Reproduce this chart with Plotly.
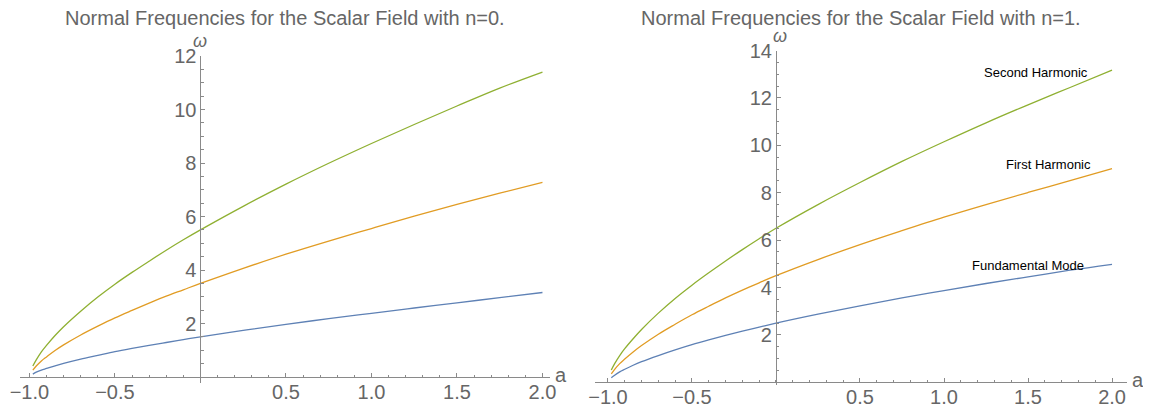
import plotly.graph_objects as go

W, H = 1151, 408          # browser window
OFF = 8                   # default page body margin
FW, FH = W - OFF, H - OFF  # figure reaches the window's right and bottom edges

# ---- data ----
a_vals = [-0.98, -0.96, -0.93, -0.9, -0.85, -0.8, -0.7, -0.6, -0.5, -0.4, -0.3,
          -0.2, -0.1, 0.0, 0.25, 0.5, 0.75, 1.0, 1.25, 1.5, 1.75, 2.0]

n0_fundamental = [0.11, 0.18, 0.26, 0.32, 0.42, 0.51, 0.67, 0.81, 0.95, 1.07, 1.18,
                  1.29, 1.40, 1.50, 1.74, 1.97, 2.18, 2.38, 2.58, 2.77, 2.97, 3.16]
n0_first = [0.26, 0.41, 0.60, 0.75, 0.99, 1.20, 1.57, 1.90, 2.21, 2.49, 2.76,
            3.02, 3.26, 3.50, 4.06, 4.59, 5.08, 5.55, 6.01, 6.45, 6.87, 7.28]
n0_second = [0.41, 0.64, 0.94, 1.18, 1.55, 1.88, 2.46, 2.99, 3.47, 3.91, 4.33,
             4.74, 5.13, 5.50, 6.38, 7.21, 7.99, 8.73, 9.44, 10.13, 10.80, 11.40]

n1_fundamental = [0.19, 0.30, 0.44, 0.55, 0.72, 0.87, 1.13, 1.37, 1.59, 1.79, 1.98,
                  2.16, 2.33, 2.50, 2.88, 3.23, 3.56, 3.87, 4.17, 4.45, 4.73, 4.98]
n1_first = [0.36, 0.55, 0.79, 0.98, 1.28, 1.55, 2.03, 2.45, 2.85, 3.21, 3.56,
            3.89, 4.20, 4.50, 5.18, 5.81, 6.40, 6.97, 7.50, 8.01, 8.51, 9.02]
n1_second = [0.52, 0.79, 1.13, 1.42, 1.84, 2.23, 2.92, 3.54, 4.10, 4.62, 5.12,
             5.60, 6.06, 6.50, 7.50, 8.43, 9.32, 10.15, 10.95, 11.71, 12.44, 13.17]

x_tickvals = [-1.0, -0.5, 0.5, 1.0, 1.5, 2.0]
x_ticktext = ["\u22121.0", "\u22120.5", "0.5", "1.0", "1.5", "2.0"]
y_ticks_left = [2, 4, 6, 8, 10, 12]
y_ticks_right = [2, 4, 6, 8, 10, 12, 14]

titles = ["Normal Frequencies for the Scalar Field with n=0.",
          "Normal Frequencies for the Scalar Field with n=1."]
mode_labels = ["Fundamental Mode", "First Harmonic", "Second Harmonic"]
label_pos_x = [1.50, 1.62, 1.55]
label_pos_y = [4.91, 9.17, 13.09]

colors = ["#5E81B5", "#E19C24", "#8FB032"]
AXIS = "#8a8a8a"
TXT = "#666666"
FONT = "Liberation Sans"
TICK_SIZE = 20

fig = go.Figure()
left_series = [n0_fundamental, n0_first, n0_second]
right_series = [n1_fundamental, n1_first, n1_second]
for s, c in zip(left_series, colors):
    fig.add_trace(go.Scatter(x=a_vals, y=s, mode="lines", line=dict(color=c, width=1.3, shape="spline"),
                             xaxis="x", yaxis="y", showlegend=False, hoverinfo="skip"))
for s, c in zip(right_series, colors):
    fig.add_trace(go.Scatter(x=a_vals, y=s, mode="lines", line=dict(color=c, width=1.3, shape="spline"),
                             xaxis="x2", yaxis="y2", showlegend=False, hoverinfo="skip"))

# convert window pixel positions to paper fractions of the (offset) figure
def px(xp):
    return (xp - OFF) / FW

def py(yp):
    return 1 - (yp - OFF) / FH

common_x = dict(tickvals=x_tickvals, ticktext=x_ticktext, ticks="inside", ticklen=4, tickwidth=1,
                tickcolor=AXIS, showline=True, linecolor=AXIS, linewidth=1, showgrid=False,
                zeroline=False, anchor="free", side="bottom", automargin=False,
                ticklabelstandoff=-3,
                tickfont=dict(family=FONT, size=TICK_SIZE, color=TXT),
                minor=dict(dtick=0.1, tick0=0, ticks="inside", ticklen=2.5, tickcolor=AXIS))
common_y = dict(ticks="inside", ticklen=4, tickwidth=1, tickcolor=AXIS, showline=True,
                linecolor=AXIS, linewidth=1, showgrid=False, zeroline=False, anchor="free",
                side="left", automargin=False, tickfont=dict(family=FONT, size=TICK_SIZE, color=TXT),
                minor=dict(dtick=0.5, tick0=0, ticks="inside", ticklen=2.5, tickcolor=AXIS))

# left panel geometry (window pixels)
L_x0, L_x1, L_xr = 20, 550, [-1.055, 2.044]
L_yb, L_yt, L_yr = 383, 56, [-0.224, 12]
L_zero_x = L_x0 + (0 - L_xr[0]) / (L_xr[1] - L_xr[0]) * (L_x1 - L_x0)
L_zero_y = L_yb - (0 - L_yr[0]) / (L_yr[1] - L_yr[0]) * (L_yb - L_yt)

# right panel geometry (window pixels)
R_x0, R_x1, R_xr = 595, 1127, [-1.077, 2.089]
R_yb, R_yt, R_yr = 384.7, 50.5, [-0.1, 14]
R_zero_x = R_x0 + (0 - R_xr[0]) / (R_xr[1] - R_xr[0]) * (R_x1 - R_x0)
R_zero_y = R_yb - (0 - R_yr[0]) / (R_yr[1] - R_yr[0]) * (R_yb - R_yt)

fig.update_layout(
    width=FW, height=FH, margin=dict(l=0, r=0, t=0, b=0, autoexpand=False),
    paper_bgcolor="white", plot_bgcolor="white",
    xaxis=dict(domain=[px(L_x0), px(L_x1)], range=L_xr, position=py(L_zero_y), **common_x),
    yaxis=dict(domain=[py(L_yb), py(L_yt)], range=L_yr, position=px(L_zero_x),
               tickvals=y_ticks_left, **common_y),
    xaxis2=dict(domain=[px(R_x0), px(R_x1)], range=R_xr, position=py(R_zero_y), **common_x),
    yaxis2=dict(domain=[py(R_yb), py(R_yt)], range=R_yr, position=px(R_zero_x),
                tickvals=y_ticks_right, **common_y),
)

anns = []
for t, cx in zip(titles, [(L_x0 + L_x1) / 2, (R_x0 + R_x1) / 2]):
    anns.append(dict(text=t, x=px(cx), y=py(18), xref="paper", yref="paper", showarrow=False,
                     xanchor="center", yanchor="middle", font=dict(family=FONT, size=20, color=TXT)))
for xe, ya in [(L_x1, L_zero_y), (R_x1, R_zero_y)]:
    anns.append(dict(text="a", x=px(xe + 3), y=py(ya - 2), xref="paper", yref="paper", showarrow=False,
                     xanchor="left", yanchor="middle", font=dict(family=FONT, size=20, color=TXT)))
for xz, yt, dx in [(L_zero_x, L_yt, 0), (R_zero_x, R_yt, 4)]:
    anns.append(dict(text="<i>\u03c9</i>", x=px(xz + dx), y=py(yt - 3), xref="paper", yref="paper",
                     showarrow=False, xanchor="center", yanchor="bottom",
                     font=dict(family=FONT, size=18, color=TXT)))
for t, lx, ly in zip(mode_labels, label_pos_x, label_pos_y):
    anns.append(dict(text=t, x=lx, y=ly, xref="x2", yref="y2", showarrow=False,
                     xanchor="center", yanchor="middle", font=dict(family=FONT, size=13, color="black")))
fig.update_layout(annotations=anns)

fig.write_html("out.html")
